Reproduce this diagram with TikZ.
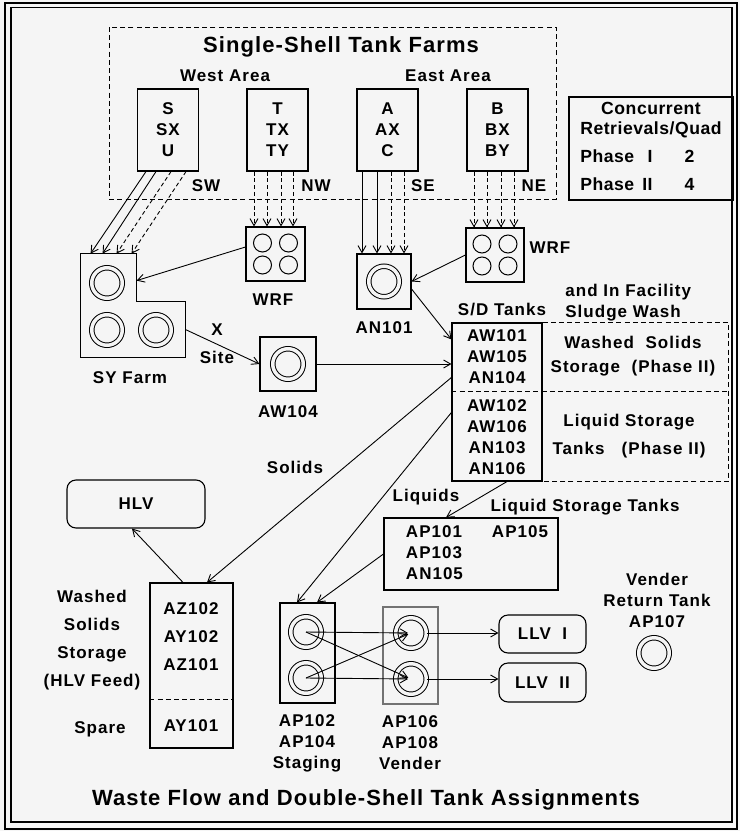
\documentclass[tikz,border=0pt]{standalone}
\usepackage{fontspec}
\setmainfont{Liberation Sans}[LetterSpace=6]
\newfontfamily\ttlfamily{Liberation Sans}[LetterSpace=5]
\newfontfamily\quadfamily{Liberation Sans}[LetterSpace=3]
\usepackage{tikz}
\usetikzlibrary{positioning,arrows.meta,calc}
\definecolor{bgc}{RGB}{245,245,245}
\newcommand{\lblfont}{\fontsize{8.5}{10.5}\selectfont\bfseries}
\newcommand{\ttlfont}{\ttlfamily\fontsize{11}{13}\selectfont\bfseries}
\newcommand{\quadfont}{\quadfamily\fontsize{8.8}{10}\selectfont\bfseries}

\begin{document}
\begin{tikzpicture}[
    x=0.5pt, y=-0.5pt,
    >={Straight Barb[length=3.5pt,width=4pt]},
    arr/.style={->, line width=0.45pt},
    darr/.style={->, line width=0.45pt, dash pattern=on 2pt off 1.4pt},
    dline/.style={line width=0.5pt, dash pattern=on 2.5pt off 1.6pt},
    lbl/.style={font=\lblfont, inner sep=1pt, align=center},
    ttl/.style={font=\ttlfont, inner sep=1pt},
    farm/.style={
        rectangle, draw, line width=0.55pt, minimum width=30.5pt,
        minimum height=41pt, align=center, font=\lblfont, inner sep=0pt
    },
    tankbox/.style={rectangle, draw, line width=0.55pt, inner sep=0pt},
    tank/.style={
        circle, draw, double=bgc, double distance=1.75pt, line width=0.5pt,
        minimum size=15.25pt, inner sep=0pt
    },
    wrfc/.style={circle, draw, line width=0.5pt, minimum size=9pt, inner sep=0pt},
    vessel/.style={
        rectangle, rounded corners=4.5pt, draw, line width=0.55pt,
        font=\lblfont, inner sep=0pt
    }
]

% ---------------- Frame ----------------
\fill[bgc] (0,0) rectangle (740,831);
\useasboundingbox (0,0) rectangle (740,831);
\draw[line width=1pt] (5,3) rectangle (737,829);
\draw[line width=0.6pt] (11,7.5) rectangle (732,822);

% ---------------- Single-shell tank farms ----------------
\draw[dline] (109,27) rectangle (556,199);
\node[ttl] (sstitle) at (341,47) {Single-Shell Tank Farms};
\node[lbl] (west) at (225,76) {West Area};
\node[lbl] (east) at (448,76) {East Area};

\node[farm] (farmS) at (168,130)   {S\\SX\\U};
\node[farm] (farmT) at (277.5,130) {T\\TX\\TY};
\node[farm] (farmA) at (387.5,130) {A\\AX\\C};
\node[farm] (farmB) at (497.5,130) {B\\BX\\BY};

\node[lbl] (sw) at (206,186) {SW};
\node[lbl] (nw) at (316,186) {NW};
\node[lbl] (se) at (423,186) {SE};
\node[lbl] (ne) at (534,186) {NE};

\node[tankbox, minimum width=82pt, minimum height=51.5pt, font=\quadfont] (quad) at (651,148.5)
    {\begin{tabular}{@{}l@{\hspace{4pt}}r@{\hspace{16pt}}l@{}}
     \multicolumn{3}{@{}c@{}}{Concurrent}\\
     \multicolumn{3}{@{}c@{}}{Retrievals/Quad}\\[4pt]
     Phase & I & 2\\[4pt]
     Phase & II & 4
     \end{tabular}};

% ---------------- West side ----------------
\node[tankbox, minimum width=29.5pt, minimum height=27pt] (wrfW) at (275.5,254) {};
\foreach \i/\dx/\dy in {1/-13/-11, 2/13/-11, 3/-13/11, 4/13/11}
    \node[wrfc] (wrfW\i) at ($(wrfW.center)+(\dx,\dy)$) {};
\node[lbl] (wrfWlbl) at (273,300) {WRF};

\foreach \dx in {-11.75,-5.25,1.75,7.75}
    \draw[darr] ([xshift=\dx pt]farmT.south) -- ([xshift=\dx pt]farmT.south |- wrfW.north);

\node[minimum width=52pt, minimum height=51.5pt, inner sep=0pt] (sy) at (133,305.5) {};
\draw[line width=0.55pt] (sy.north west) -- ++(28pt,0pt) |- ([yshift=-24pt]sy.north east)
    -- (sy.south east) -- (sy.south west) -- cycle;
\node[tank] (sy1) at (107,283) {};
\node[tank] (sy2) at (107,330) {};
\node[tank] (sy3) at (156,330) {};
\node[lbl] (sylbl) at (130,378) {SY Farm};

\foreach \sx/\tx/\sty in {-11/5/arr, -6/11/arr, 1.5/18/darr, 9/25.5/darr}
    \draw[\sty] ([xshift=\sx pt]farmS.south) -- ([xshift=\tx pt]sy.north west);
\draw[arr] ([yshift=3.5pt]wrfW.west) -- ([xshift=28pt,yshift=-13.5pt]sy.north west);

\node[tankbox, minimum width=28pt, minimum height=27pt] (aw104) at (288,364) {};
\node[tank] (aw104t) at (aw104.center) {};
\node[lbl] (aw104lbl) at (288,412) {AW104};

\draw[arr] ([yshift=-12pt]sy.east) -- (aw104.west);
\node[lbl] (xsite) at (217,344) {X\\[3.5pt]Site};

% ---------------- East side ----------------
\node[tankbox, minimum width=27pt, minimum height=27.5pt] (an101) at (384,281.5) {};
\node[tank] (an101t) at (an101.center) {};
\node[lbl] (an101lbl) at (384,328) {AN101};

\foreach \dx/\sty in {-12.75/arr, -5.25/arr, 1.75/darr, 8.25/darr}
    \draw[\sty] ([xshift=\dx pt]farmA.south) -- ([xshift=\dx pt]farmA.south |- an101.north);

\node[tankbox, minimum width=29pt, minimum height=27pt] (wrfE) at (495,255) {};
\foreach \i/\dx/\dy in {1/-13/-11, 2/13/-11, 3/-13/11, 4/13/11}
    \node[wrfc] (wrfE\i) at ($(wrfE.center)+(\dx,\dy)$) {};
\node[lbl] (wrfElbl) at (550,248) {WRF};

\foreach \dx in {-11.75,-5.25,1.75,8.25}
    \draw[darr] ([xshift=\dx pt]farmB.south) -- ([xshift=\dx pt]farmB.south |- wrfE.north);
\draw[arr] (wrfE.west) -- (an101.east);

% ---------------- S/D tanks ----------------
\node[tankbox, minimum width=45pt, minimum height=79pt, align=center, font=\lblfont] (sd) at (497,402)
    {AW101\\AW105\\AN104\\[3.5pt]AW102\\AW106\\AN103\\AN106};
\node[lbl] (sdlbl) at (502,310) {S/D Tanks};
\node[lbl, align=left, anchor=west] (sludge) at (563,302.5) {and In Facility\\Sludge Wash};
\draw[dline] (sd.north east) -- ++(93pt,0pt) |- (sd.south east);
\draw[dline] ([yshift=-34.5pt]sd.north west) -- ++(138pt,0pt);
\node[lbl] (wss) at (633,356) {Washed\ \ Solids\\[1.5pt]Storage\ \ (Phase II)};
\node[lbl] (lst) at (629,436) {Liquid Storage\\[3.5pt]Tanks\ \ \ (Phase II)};

\draw[arr] ([yshift=-3.75pt]an101.east) -- ([yshift=-8.5pt]sd.north west);
\draw[arr] (aw104.east) -- (aw104.east -| sd.west);

% ---------------- Solids ----------------
\node[vessel, minimum width=69pt, minimum height=24pt] (hlv) at (136,504) {HLV};
\node[tankbox, minimum width=41.5pt, minimum height=82.5pt] (az) at (191.5,665.5) {};
\node[lbl] (aztop) at (191,637) {AZ102\\[3.5pt]AY102\\[3.5pt]AZ101};
\node[lbl] (ay101) at (191,726) {AY101};
\draw[dline] ([yshift=-58.5pt]az.north west) -- ([yshift=-58.5pt]az.north east);
\node[lbl] (wssl) at (92,640) {Washed\\[3.5pt]Solids\\[3.5pt]Storage\\[3.5pt](HLV Feed)};
\node[lbl] (spare) at (100,729) {Spare};

\draw[arr] ([yshift=-27.5pt]sd.north west) -- ([xshift=7.75pt]az.north);
\draw[arr] ([xshift=-4.25pt]az.north) -- ([xshift=-2pt]hlv.south);
\node[lbl] (solids) at (295,467) {Solids};

% ---------------- Liquids ----------------
\node[tankbox, minimum width=87pt, minimum height=36pt, font=\lblfont] (ap101) at (471,554)
    {\begin{tabular}{@{\hspace{6pt}}l@{\hspace{14.5pt}}l@{}}AP101 & AP105\\ AP103 & \\ AN105 & \end{tabular}};
\draw[arr] ([xshift=5pt]sd.south) -- ([xshift=-12.5pt]ap101.north);
\node[lbl] (liquids) at (426,497) {Liquids};
\node[lbl] (lstt) at (585,507) {Liquid Storage Tanks};

\node[tankbox, minimum width=27.5pt, minimum height=50pt] (stg) at (307.5,653) {};
\node[tank] (stg1) at (306,632) {};
\node[tank] (stg2) at (306,678) {};
\node[lbl] (stglbl) at (307,743) {AP102\\AP104\\Staging};

\draw[arr] ([yshift=-45pt]sd.north west) -- ([xshift=-5.25pt]stg.north);
\draw[arr] (ap101.west) -- ([xshift=4.75pt]stg.north);

\node[tankbox, draw=black!55, minimum width=27.5pt, minimum height=48.5pt] (vnd) at (410.5,655.5) {};
\node[tank] (vnd1) at (411,633) {};
\node[tank] (vnd2) at (411,679) {};
\node[lbl] (vndlbl) at (410,743) {AP106\\AP108\\Vender};

\foreach \a/\b in {1/1, 1/2, 2/1, 2/2}
    \draw[arr, shorten >=1.5pt] (stg\a.center) -- (vnd\b.center);

\node[vessel, minimum width=43.5pt, minimum height=19pt] (llv1) at (542.5,634) {LLV\ \ I};
\node[vessel, minimum width=43.5pt, minimum height=19.5pt] (llv2) at (542.5,682.5) {LLV\ \ II};
\draw[arr] (vnd1.east) -- (vnd1.east -| llv1.west);
\draw[arr] (vnd2.east) -- (vnd2.east -| llv2.west);

\node[lbl] (vrt) at (657,600) {Vender\\Return Tank\\AP107};
\node[tank] (ap107) at (654,653) {};

\node[ttl] (wftitle) at (366,800) {Waste Flow and Double-Shell Tank Assignments};

\end{tikzpicture}
\end{document}
